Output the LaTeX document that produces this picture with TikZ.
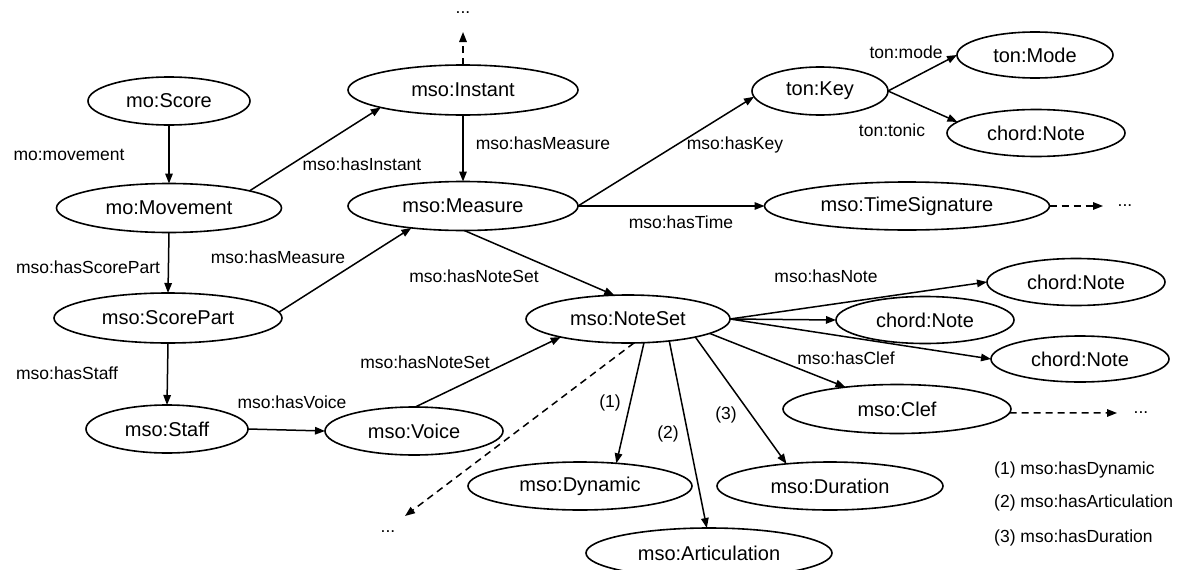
\documentclass[tikz,border=0pt]{standalone}
\usepackage{fontspec}
\setmainfont{Liberation Sans}
\usetikzlibrary{shapes.geometric,arrows.meta}

\tikzset{
  cls/.style={ellipse, draw, line width=1.6pt, inner sep=0pt, outer sep=0pt,
    font=\fontsize{20}{24}\selectfont},
  rel/.style={line width=1.5pt, -{Triangle[length=10pt,width=7.5pt]}},
  more/.style={rel, dash pattern=on 7pt off 5pt},
  lbl/.style={font=\fontsize{17.5}{21}\selectfont, inner sep=0pt},
  dots/.style={font=\fontsize{17.5}{21}\selectfont, inner sep=0pt}
}

\newcommand{\cls}[5]{\node[cls, minimum width=#4pt, minimum height=#5pt] (#1) at #2 {#3};}

\begin{document}
\begin{tikzpicture}[x=1pt, y=-1pt]
\useasboundingbox (0,0) rectangle (1181,570);

% classes
\cls{score}{(169,101)}{mo:Score}{162}{48}
\cls{mov}{(169,208)}{mo:Movement}{225}{49}
\cls{sp}{(168,318)}{mso:ScorePart}{228}{50}
\cls{staff}{(167,429)}{mso:Staff}{162}{48}
\cls{voice}{(414,431)}{mso:Voice}{178}{48}
\cls{inst}{(463,90)}{mso:Instant}{230}{50}
\cls{meas}{(463,206)}{mso:Measure}{230}{49}
\cls{key}{(820,91)}{ton:Key}{136}{48}
\cls{mode}{(1035,55)}{ton:Mode}{156}{46}
\cls{tonic}{(1036,133)}{chord:Note}{178}{47}
\cls{ts}{(907,206)}{mso:TimeSignature}{285}{48}
\cls{ns}{(628,319)}{mso:NoteSet}{204}{48}
\cls{n1}{(1076,282)}{chord:Note}{178}{47}
\cls{n2}{(925,320)}{chord:Note}{178}{47}
\cls{n3}{(1080,359)}{chord:Note}{178}{46}
\cls{clef}{(897,409)}{mso:Clef}{228}{49}
\cls{dyn}{(580,486)}{mso:Dynamic}{224}{48}
\cls{dur}{(830,486)}{mso:Duration}{226}{48}
\cls{art}{(709,553)}{mso:Articulation}{246}{50}

% open ends
\coordinate (instmore) at (463,32);
\coordinate (tsmore) at (1103,206);
\coordinate (clefmore) at (1117,413);
\coordinate (nsmore) at (405,516);
\node[dots] (instdots) at (463,13) {...};
\node[dots] (tsdots) at (1125,206) {...};
\node[dots] (clefdots) at (1141,413) {...};
\node[dots] (nsdots) at (388,532) {...};

% relations
\draw[rel] (score.south) -- (mov.north);
\draw[rel] (mov.12) -- (inst.192);
\draw[rel] (mov.south) -- (sp.north);
\draw[rel] (sp.3) -- (meas.203);
\draw[rel] (sp.south) -- (staff.north);
\draw[rel] (staff.east) -- (voice.west);
\draw[rel] (voice.87) -- (ns.195.5);
\draw[rel] (inst.south) -- (meas.north);
\draw[more] (inst.north) -- (instmore);
\draw[rel] (meas.east) -- (key.185);
\draw[rel] (meas.east) -- (ts.west);
\draw[rel] (meas.-87) -- (ns.120.5);
\draw[rel] (key.east) -- (mode.west);
\draw[rel] (key.east) -- (tonic.172);
\draw[more] (ts.east) -- (tsmore);
\draw[rel] (ns.east) -- (n1.west);
\draw[rel] (ns.east) -- (n2.west);
\draw[rel] (ns.east) -- (n3.west);
\draw[rel] (ns.-10.5) -- (clef.157);
\draw[more] (clef.-2) -- (clefmore);
\draw[rel] (ns.-56) -- (dyn.32);
\draw[rel] (ns.-28) -- (art.95);
\draw[rel] (ns.-15) -- (dur.153);
\draw[more] (ns.-76) -- (nsmore);

% relation labels
\node[lbl] (l1) at (69,155) {mo:movement};
\node[lbl] (l2) at (362,164) {mso:hasInstant};
\node[lbl] (l3) at (88,267) {mso:hasScorePart};
\node[lbl] (l4) at (278,257) {mso:hasMeasure};
\node[lbl] (l5) at (543,143) {mso:hasMeasure};
\node[lbl] (l6) at (735,145) {mso:hasKey};
\node[lbl] (l7) at (681,222) {mso:hasTime};
\node[lbl] (l8) at (474,276) {mso:hasNoteSet};
\node[lbl] (l9) at (906,52) {ton:mode};
\node[lbl] (l10) at (892,130) {ton:tonic};
\node[lbl] (l11) at (826,276) {mso:hasNote};
\node[lbl] (l12) at (846,358) {mso:hasClef};
\node[lbl] (l13) at (67,373) {mso:hasStaff};
\node[lbl] (l14) at (292,402) {mso:hasVoice};
\node[lbl] (l15) at (425,362) {mso:hasNoteSet};
\node[lbl] (l16) at (610,403) {(1)};
\node[lbl] (l17) at (668,434) {(2)};
\node[lbl] (l18) at (726,415) {(3)};

% legend
\node[lbl, anchor=west] (k1) at (994,470) {(1) mso:hasDynamic};
\node[lbl, anchor=west] (k2) at (994,503) {(2) mso:hasArticulation};
\node[lbl, anchor=west] (k3) at (994,538) {(3) mso:hasDuration};
\end{tikzpicture}
\end{document}
